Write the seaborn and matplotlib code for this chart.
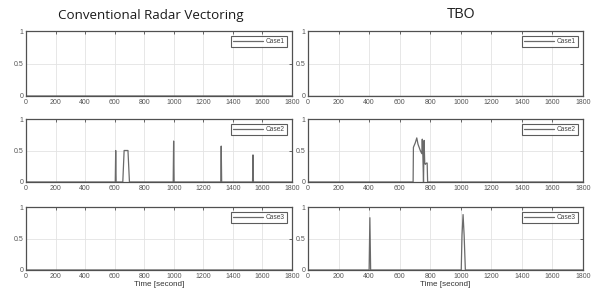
import numpy as np
import pandas as pd
import matplotlib
matplotlib.use("Agg")
import matplotlib.pyplot as plt
import seaborn as sns

# ---- data ----
x_ticks = [0, 200, 400, 600, 800, 1000, 1200, 1400, 1600, 1800]
y_ticks = [0, 0.5, 1]
y_tick_labels = ["0", "0.5", "1"]
col_titles = ["Conventional Radar Vectoring", "TBO"]
case_labels = ["Case1", "Case2", "Case3"]

crv_case1_t = [0, 1, 1800]
crv_case1_v = [1, 0, 0]
crv_case2_t = [0, 1, 604, 607, 610, 655, 664, 690, 700, 996, 999, 1002,
               1318, 1321, 1324, 1533, 1536, 1539, 1800]
crv_case2_v = [1, 0, 0, 0.5, 0, 0, 0.5, 0.5, 0, 0, 0.65, 0,
               0, 0.57, 0, 0, 0.43, 0, 0]
crv_case3_t = [0, 1, 1800]
crv_case3_v = [1, 0, 0]

tbo_case1_t = [0, 1800]
tbo_case1_v = [0, 0]
tbo_case2_t = [0, 688, 690, 695, 702, 712, 720, 735, 745, 748, 752, 756,
               760, 764, 768, 774, 780, 783, 1800]
tbo_case2_v = [0, 0, 0.55, 0.58, 0.62, 0.70, 0.60, 0.50, 0.45, 0.68, 0.40, 0.0,
               0.66, 0.30, 0.28, 0.30, 0.30, 0, 0]
tbo_case3_t = [0, 400, 405, 410, 1003, 1008, 1015, 1022, 1030, 1800]
tbo_case3_v = [0, 0, 0.83, 0, 0, 0.55, 0.88, 0.55, 0, 0]

series = [
    [(crv_case1_t, crv_case1_v), (tbo_case1_t, tbo_case1_v)],
    [(crv_case2_t, crv_case2_v), (tbo_case2_t, tbo_case2_v)],
    [(crv_case3_t, crv_case3_v), (tbo_case3_t, tbo_case3_v)],
]

# ---- style ----
sns.set_theme(style="whitegrid")
plt.rcParams['font.family'] = ['Liberation Sans', 'DejaVu Sans']
plt.rcParams.update({
    "grid.color": "#e3e3e3",
    "grid.linewidth": 0.6,
    "axes.edgecolor": "#505050",
    "axes.linewidth": 0.9,
    "xtick.direction": "in",
    "ytick.direction": "in",
})

fig = plt.figure(figsize=(5.94, 2.93), dpi=100)
W, H = 594.0, 293.0
col_x = [(26, 292), (308, 583)]
row_y = [(31, 96), (119, 182), (207, 270)]

line_color = "#6a6a6a"
for r in range(3):
    for c in range(2):
        x0, x1 = col_x[c]
        yt, yb = row_y[r]
        ax = fig.add_axes([x0 / W, 1 - yb / H, (x1 - x0) / W, (yb - yt) / H])
        t, v = series[r][c]
        df = pd.DataFrame({"t": t, "v": v})
        sns.lineplot(data=df, x="t", y="v", ax=ax, color=line_color,
                     linewidth=0.9, label=case_labels[r], sort=False,
                     estimator=None)
        ax.set_xlim(0, 1800)
        ax.set_ylim(0, 1)
        ax.set_xticks(x_ticks)
        ax.set_yticks(y_ticks)
        ax.set_yticklabels(y_tick_labels)
        ax.tick_params(axis="both", which="both", labelsize=5, length=2,
                       width=0.6, color="#505050", labelcolor="#555555",
                       pad=2, top=True, right=True)
        ax.set_xlabel("")
        ax.set_ylabel("")
        ax.grid(True)
        for s in ax.spines.values():
            s.set_visible(True)
            s.set_color("#505050")
        leg = ax.legend(loc="upper right", fontsize=4.8, frameon=True,
                        fancybox=False, handlelength=4.5, borderpad=0.35,
                        handletextpad=0.4, borderaxespad=0.7)
        leg.get_frame().set_edgecolor("#333333")
        leg.get_frame().set_linewidth(0.8)
        for txt in leg.get_texts():
            txt.set_color("#444444")
        if r == 2:
            ax.set_xlabel("Time [second]", fontsize=5.8, color="#333333",
                          labelpad=1)
        if r == 0:
            if c == 0:
                ax.set_title(col_titles[c], fontsize=9.6, family="Open Sans",
                             fontweight="medium", color="#1a1a1a", pad=9,
                             x=0.47)
            else:
                ax.set_title(col_titles[c], fontsize=10, color="#222222",
                             pad=9, x=0.555)

fig.savefig("out.png", dpi=100)
